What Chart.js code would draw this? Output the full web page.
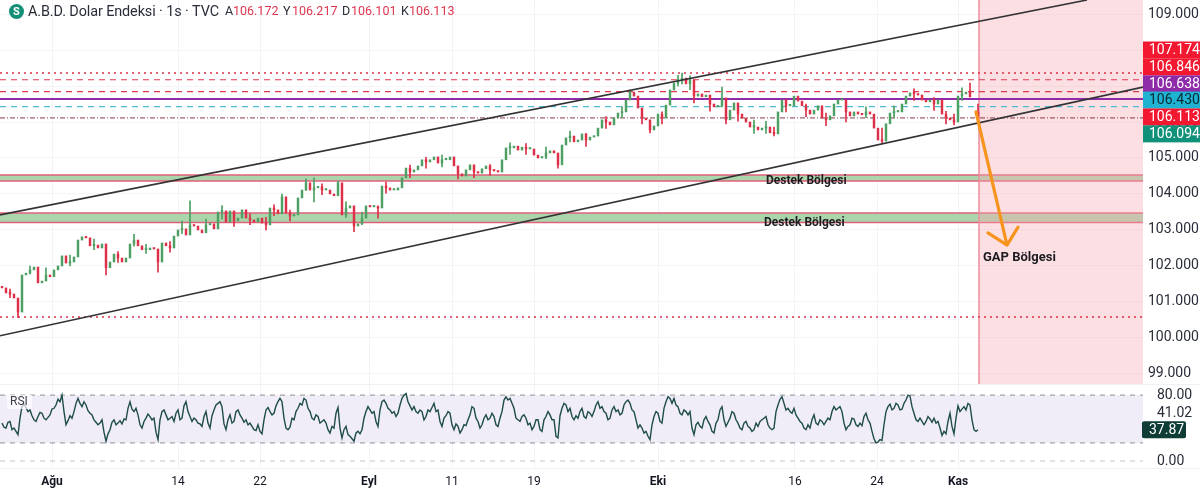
<!DOCTYPE html>
<html><head><meta charset="utf-8">
<style>html,body{margin:0;padding:0;background:#fff;overflow:hidden}canvas{display:block}</style>
<script src="https://cdn.jsdelivr.net/npm/chart.js@4"></script>
</head><body><canvas id="c" width="1200" height="494"></canvas>
<script>
const closes=[101.39,101.25,101.22,101.11,100.72,101.75,101.80,101.89,101.97,101.53,101.58,101.75,101.70,101.89,102.00,102.28,102.08,102.11,102.25,102.72,102.81,102.78,102.56,102.58,102.50,102.61,
101.95,102.11,102.33,102.22,102.11,102.22,102.61,102.72,102.56,102.45,102.45,102.50,102.47,102.11,102.64,102.56,102.50,102.83,103.00,103.03,102.86,103.14,103.11,103.00,102.92,103.14,103.17,103.03,
103.50,103.53,103.22,103.53,103.25,103.33,103.56,103.33,103.28,103.22,103.33,103.19,103.14,103.61,103.56,103.45,103.92,103.47,103.39,103.42,103.89,104.11,104.31,104.11,104.17,104.20,104.11,104.11,
104.00,103.95,104.31,103.42,103.61,103.67,103.11,103.17,103.33,103.67,103.64,103.64,103.61,104.22,104.17,104.11,104.11,104.17,104.45,104.72,104.61,104.67,104.78,104.95,104.89,104.95,105.03,104.86,
104.95,104.95,105.03,104.78,104.56,104.50,104.67,104.81,104.61,104.58,104.70,104.78,104.67,104.64,104.61,104.95,105.28,105.28,105.33,105.22,105.30,105.25,105.25,105.08,105.00,105.03,105.14,105.20,
105.14,104.81,105.36,105.56,105.61,105.45,105.50,105.67,105.50,105.58,105.61,105.83,106.06,106.00,105.92,106.11,106.25,106.28,106.61,106.83,106.72,106.39,106.11,106.06,105.78,105.89,106.22,106.11,
106.47,106.89,107.08,107.17,107.22,107.06,107.17,106.72,106.78,106.70,106.75,106.50,106.42,106.45,106.67,106.06,106.33,106.53,106.22,106.11,106.00,105.86,105.86,105.78,105.83,105.86,105.70,105.67,
106.28,106.61,106.45,106.45,106.72,106.58,106.45,106.33,106.22,106.33,106.45,106.11,106.06,106.17,106.50,106.61,106.61,106.28,106.17,106.28,106.22,106.20,106.28,106.22,105.83,105.50,105.47,105.95,
106.25,106.28,106.28,106.50,106.72,106.81,106.78,106.75,106.61,106.56,106.61,106.50,106.61,106.22,106.11,106.06,106.00,106.72,106.78,106.83,106.70,null,106.11];
const gapOpen=106.26;
const wickIndex=[4,26,39,47,70,78,84,88,94,139,157,162,170,173,180,181,193,220,238,242,244,
 2,7,11,17,23,29,33,36,42,45,51,55,58,62,66,68,72,76,80,86,90,96,102,106,110,114,118,122,127,131,136,142,146,151,155,160,165,169,172,177,184,188,191,196,201,206,211,216,223,228,233,236,240];
const wickLow=[100.56,101.75,101.83,103.11,103.47,103.78,104.00,102.95,103.33,104.72,106.72,105.70,107.06,106.53,106.42,105.95,105.61,105.42,105.92,106.70,106.11,
 101.12,101.78,101.6,102.0,102.45,102.1,102.55,102.35,102.38,102.9,102.98,103.3,103.1,103.15,103.0,103.4,103.25,104.1,103.98,103.35,103.15,104.02,104.45,104.72,104.75,104.42,104.45,104.52,105.1,105.1,104.98,105.45,105.32,105.82,106.12,105.95,105.95,107.0,106.9,106.3,106.02,105.68,105.68,106.28,106.15,105.9,106.0,106.12,106.12,106.6,106.32,105.95,106.6];
const wickHigh=[100.72,102.61,102.47,103.81,104.00,104.45,104.36,103.42,103.67,105.00,106.89,105.89,107.36,106.78,106.97,106.42,105.86,105.83,106.22,107.08,106.50,
 101.36,102.0,101.95,102.3,102.75,102.4,102.88,102.6,102.68,103.25,103.3,103.68,103.52,103.45,103.35,103.7,103.55,104.42,104.28,103.78,103.5,104.33,104.8,105.02,105.08,104.72,104.78,104.82,105.42,105.4,105.3,105.75,105.68,106.15,106.42,106.3,106.28,107.3,107.28,106.7,106.4,106.05,106.02,106.62,106.5,106.25,106.45,106.42,106.45,106.92,106.68,106.3,106.95];
// RSI reading at half-candle steps
const rsi=[46,41,40,47,48,38,40,36,32,52,66,69,65,60,62,55,50,48,54,59,58,52,50,53,56,63,64,68,75,72,80,60,44,49,55,52,60,70,76,70,66,72,68,61,58,56,50,47,44,46,50,35,24,33,38,47,50,44,46,49,45,51,50,64,72,63,60,64,56,44,40,48,52,57,54,50,52,35,26,50,60,62,56,50,52,54,48,58,62,50,52,67,72,60,54,48,52,50,46,45,42,54,60,46,40,55,62,68,70,72,66,45,38,50,56,46,48,60,62,56,52,47,50,44,46,42,38,37,44,36,33,50,62,65,60,56,58,67,72,76,72,52,40,38,41,52,50,60,64,70,68,76,74,64,60,52,50,56,54,46,48,50,46,38,34,42,40,58,65,40,28,38,42,32,30,27,24,34,36,33,38,52,60,66,62,58,60,48,42,62,72,74,70,64,62,58,60,54,58,
68,76,80,82,72,67,62,66,60,58,62,60,50,54,62,60,65,70,60,62,48,42,52,55,60,58,44,38,45,42,34,38,44,43,50,56,66,64,52,48,40,44,52,56,50,52,58,54,44,42,52,60,74,78,74,76,70,64,52,50,48,54,56,52,44,46,38,42,50,50,38,36,50,54,60,56,50,50,30,28,55,64,70,68,60,64,54,50,55,52,60,64,54,52,60,58,54,60,68,72,64,66,60,58,50,52,62,66,60,62,56,58,68,72,74,70,62,60,50,40,44,40,34,36,30,26,44,54,60,58,48,46,64,72,78,76,70,76,68,66,58,56,62,60,56,60,40,32,44,47,
42,40,50,54,48,44,36,34,46,50,62,66,50,42,47,52,60,58,50,46,40,38,46,48,42,40,36,38,46,42,48,50,52,54,44,40,38,40,60,68,75,78,70,62,64,60,58,64,56,52,48,46,40,38,44,40,50,56,46,44,50,48,44,48,52,50,60,66,62,64,66,60,46,38,42,44,52,51,44,42,46,43,54,58,50,46,36,27,22,23,26,25,44,60,66,69,62,64,70,68,62,63,70,74,80,79,66,58,50,48,52,48,44,48,54,51,47,52,46,48,40,31,36,33,48,58,42,33,52,67,60,63,66,62,70,68,50,38,36,37.87];
const priceTicks=[99,100,101,102,103,104,105,106,107,108,109];
const rsiTicks=[80,58.2,0];
const rsiTickLabels=['80.00','41.02','0.00'];
const timeTicks=[12.5,44,64.5,91.75,112.5,133,164,198.25,218.75,239];
const timeLabels=['Ağu','14','22','Eyl','11','19','Eki','16','24','Kas'];
const monthLabels=['Ağu','Eyl','Eki','Kas'];
const xRange=[-0.5,285.25];
const forecastStart=244.25;
const redDotted=[107.36,100.58];
const redDashed=[107.174,106.846];
const purpleLevel=106.638;
const tealLevel=106.430;
const closeLevel=106.113;
const upperChannel=[103.42,109.39];
const upperChannelX=[-0.5,271.25];
const lowerChannel=[100.06,106.97];
const zones=[[104.36,104.53],[103.21,103.47]];
const arrowX=[243.5,251.25,246.5,251.25,254];
const arrowY=[106.28,102.58,102.92,102.58,103.08];
const rsiBands=[80,22,0];
const badgeTexts=['107.174','106.846','106.638','106.430','106.113','106.094'];
const badgeCentres=[108.0,107.53,107.06,106.61,106.14,105.67];
const badgeFills=['#F2182F','#F2182F','#8E2BA8','#1FB3D1','#F2182F','#11907A'];
const badgeInk=['#fff','#fff','#fff','#0b2a33','#fff','#fff'];
const FONT='Roboto, "Liberation Sans", sans-serif';
const UP='#4E9F63', DOWN='#DD2F47';

const bodyData=[],bodyColor=[];
closes.forEach((c,i)=>{ if(c===null) return;
  const o=closes[i-1]??(i===0?c+0.03:gapOpen);
  bodyData.push({x:i,y:[o,c]}); bodyColor.push(c>=o?UP:DOWN);});
const wickData=wickIndex.map((w,k)=>({x:w,y:[wickLow[k],wickHigh[k]]}));
const wickColor=wickIndex.map(w=>{const o=closes[w-1]??gapOpen;return closes[w]>=o?UP:DOWN;});
const flat=(v,id,color,dash,width,order)=>({type:'line',yAxisID:id,data:xRange.map(x=>({x,y:v})),borderColor:color,borderDash:dash,borderWidth:width,pointRadius:0,order,clip:true});

const paint={id:'paint',
 beforeDatasetsDraw(ch){const {ctx,chartArea:a,scales:{x,y,yr}}=ch;ctx.save();
  const pTop=y.top,pBot=y.bottom;
  zones.forEach(z=>{const t=y.getPixelForValue(z[1]),b=y.getPixelForValue(z[0]);
    ctx.fillStyle='#ABD6AC';ctx.fillRect(a.left,t,a.width,b-t);
    ctx.strokeStyle='#E0607A';ctx.lineWidth=1.5;
    [t,b].forEach(v=>{ctx.beginPath();ctx.moveTo(a.left,v);ctx.lineTo(a.right,v);ctx.stroke();});});
  const fx=x.getPixelForValue(forecastStart);
  ctx.fillStyle='rgba(247,170,180,0.38)';ctx.fillRect(fx,pTop,a.right-fx,pBot-pTop);
  ctx.strokeStyle='#EE8C9C';ctx.lineWidth=1.5;ctx.beginPath();ctx.moveTo(fx,pTop);ctx.lineTo(fx,pBot);ctx.stroke();
  const t=yr.getPixelForValue(rsiBands[0]),b=yr.getPixelForValue(rsiBands[1]);
  ctx.fillStyle='#F0ECF8';ctx.fillRect(a.left,t,a.width,b-t);
  ctx.fillStyle='#EEF0F3';ctx.fillRect(0,pBot,ch.width,1);ctx.fillRect(0,yr.bottom,ch.width,1);
  ctx.restore();},
 afterDraw(ch){const {ctx,chartArea:a,scales:{x,y,yr}}=ch;ctx.save();
  ctx.textBaseline='middle';
  ctx.fillStyle='#148F77';ctx.beginPath();ctx.arc(16.5,11.5,7.5,0,7);ctx.fill();
  ctx.fillStyle='#fff';ctx.font='bold 11px '+FONT;ctx.textAlign='center';ctx.fillText('S',16.5,12);
  ctx.textAlign='left';ctx.fillStyle='#2A2E39';ctx.font='14.4px '+FONT;ctx.letterSpacing='-0.1px';ctx.fillText('A.B.D. Dolar Endeksi · 1s · TVC',28,12);
  ctx.letterSpacing='0px';
  [['A',225,'106.172',233],['Y',283,'106.217',292],['D',342,'106.101',351],['K',401,'106.113',409]].forEach(h=>{
    ctx.font='12.5px '+FONT;ctx.fillStyle='#2A2E39';ctx.fillText(h[0],h[1],12);
    ctx.fillStyle='#E0364F';ctx.fillText(h[2],h[3],12);});
  ctx.fillStyle='#1c1c22';ctx.font='bold 12px '+FONT;
  ctx.fillText('Destek Bölgesi',x.getPixelForValue(191),y.getPixelForValue(104.36));
  ctx.fillText('Destek Bölgesi',x.getPixelForValue(190.5),y.getPixelForValue(103.19));
  ctx.font='bold 13px '+FONT;ctx.fillText('GAP Bölgesi',x.getPixelForValue(245.25),y.getPixelForValue(102.22));
  ctx.fillStyle='rgba(255,255,255,0.7)';ctx.fillRect(7,395,25,14);
  ctx.fillStyle='#3a3d46';ctx.font='12px '+FONT;ctx.fillText('RSI',10,401.5);
  ctx.font='14px '+FONT;ctx.textAlign='left';
  badgeTexts.forEach((t,i)=>{const c=y.getPixelForValue(badgeCentres[i]);
    ctx.fillStyle=badgeFills[i];ctx.fillRect(a.right,c-8.5,ch.width-a.right,17);
    ctx.fillStyle=badgeInk[i];ctx.fillText(t,a.right+6,c+0.5);});
  const c=yr.getPixelForValue(37.87);
  ctx.fillStyle='#0F3D36';ctx.beginPath();ctx.roundRect(a.right-1,c-8.5,44,17,2);ctx.fill();
  ctx.fillStyle='#fff';ctx.fillText('37.87',a.right+6,c+0.5);
  ctx.restore();}
};

new Chart(document.getElementById('c'),{
 data:{datasets:[
  {type:'line',yAxisID:'y',data:arrowX.map((v,i)=>({x:v,y:arrowY[i]})),borderColor:'#F7941E',borderWidth:3.2,pointRadius:0,order:0,borderCapStyle:'round',borderJoinStyle:'round'},
  {type:'line',yAxisID:'y',data:upperChannelX.map((v,i)=>({x:v,y:upperChannel[i]})),borderColor:'#333336',borderWidth:1.6,pointRadius:0,order:1},
  {type:'line',yAxisID:'y',data:xRange.map((v,i)=>({x:v,y:lowerChannel[i]})),borderColor:'#333336',borderWidth:1.6,pointRadius:0,order:1},
  {type:'bar',yAxisID:'y',data:bodyData,backgroundColor:bodyColor,barThickness:1.8,minBarLength:1.5,order:2},
  {type:'bar',yAxisID:'y',data:wickData,backgroundColor:wickColor,barThickness:1,order:2.5},
  flat(redDotted[0],'y','#DD2F47',[2,4],1.6,4),
  flat(redDotted[1],'y','#DD2F47',[2,4],1.6,4),
  flat(redDashed[0],'y','#DD3A52',[6,5],1.2,4),
  flat(redDashed[1],'y','#DD3A52',[6,5],1.2,4),
  flat(purpleLevel,'y','#8E2BA8',[],2,4),
  flat(tealLevel,'y','#4CBCD0',[6,5],1.2,4),
  flat(closeLevel,'y','#8A3A48',[5,2,1,2],1,4),
  {type:'line',yAxisID:'yr',data:rsi.map((v,i)=>({x:i/2,y:v})),borderColor:'#1E4D48',borderWidth:1.4,pointRadius:0,order:2},
  flat(rsiBands[0],'yr','#A8A8AE',[5,5],1.3,3),
  flat(rsiBands[1],'yr','#A8A8AE',[5,5],1.3,3),
  flat(rsiBands[2],'yr','#C8C8CE',[5,5],1,3)
 ]},
 options:{responsive:false,animation:false,devicePixelRatio:1,
  layout:{padding:0},
  plugins:{legend:{display:false},tooltip:{enabled:false},title:{display:false}},
  datasets:{bar:{grouped:false}},
  scales:{
   x:{type:'linear',position:'bottom',min:xRange[0],max:xRange[1],offset:false,
      afterBuildTicks(s){s.ticks=timeTicks.map(v=>({value:v}));},
      afterFit(s){s.height=26;s.paddingLeft=0;s.paddingRight=0;},
      grid:{color:'#F1F3F6',drawTicks:false,offset:false},border:{display:false},
      ticks:{autoSkip:false,maxRotation:0,padding:7,color:'#131722',
        callback(v){return timeLabels[timeTicks.indexOf(v)];},
        font(ctx){const l=timeLabels[timeTicks.indexOf(ctx.tick&&ctx.tick.value)];return {family:FONT,size:12,weight:monthLabels.includes(l)?'bold':'normal'};}}},
   y:{type:'linear',position:'right',stack:'all',stackWeight:384,min:98.72,max:109.39,
      afterBuildTicks(s){s.ticks=priceTicks.map(v=>({value:v}));},
      afterFit(s){s.width=57;s.paddingTop=0;s.paddingBottom=0;},
      grid:{color:'#F3F4F7',drawTicks:false},border:{display:false},
      ticks:{padding:5,color:'#2A2E39',font:{family:FONT,size:14},callback(v){return v.toFixed(3);}}},
   yr:{type:'linear',position:'right',stack:'all',stackWeight:84,min:-8.5,max:93.5,
      afterBuildTicks(s){s.ticks=rsiTicks.map(v=>({value:v}));},
      afterFit(s){s.width=57;s.paddingTop=0;s.paddingBottom=0;},
      grid:{display:false},border:{display:false},
      ticks:{padding:6,color:'#2A2E39',font:{family:FONT,size:14},callback(v){return rsiTickLabels[rsiTicks.indexOf(v)];}}}
  }},
 plugins:[paint]
});
</script></body></html>
